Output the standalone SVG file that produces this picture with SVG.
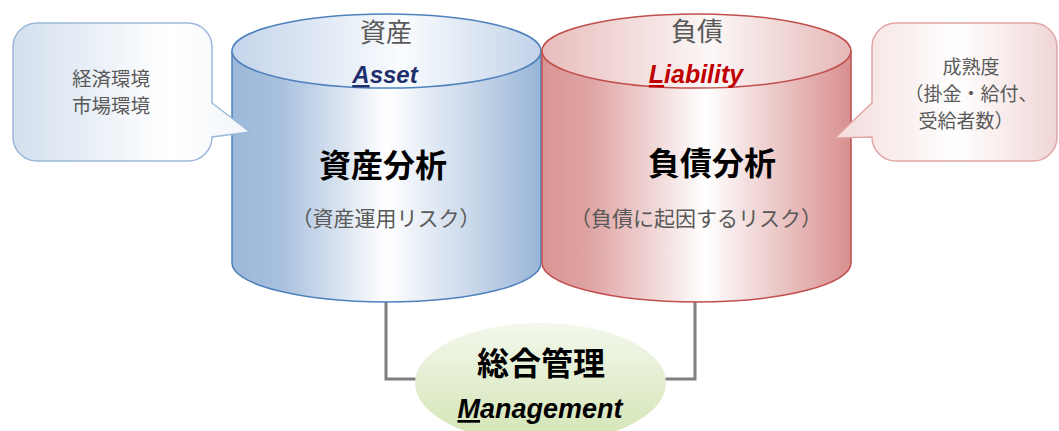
<svg xmlns="http://www.w3.org/2000/svg" width="1059" height="431" viewBox="0 0 1059 431">
<defs>
<linearGradient id="gBlueBody" x1="0" y1="0" x2="1" y2="0">
<stop offset="0" stop-color="#9DB8D9"/>
<stop offset="0.15" stop-color="#A6BFDD"/>
<stop offset="0.5" stop-color="#FFFFFF"/>
<stop offset="0.85" stop-color="#BACDE4"/>
<stop offset="1" stop-color="#97B4D7"/>
</linearGradient>
<linearGradient id="gBlueTop" x1="0" y1="0" x2="1" y2="0">
<stop offset="0" stop-color="#C4D4EA"/>
<stop offset="0.55" stop-color="#FAFCFE"/>
<stop offset="1" stop-color="#C1D2E8"/>
</linearGradient>
<linearGradient id="gRedBody" x1="0" y1="0" x2="1" y2="0">
<stop offset="0" stop-color="#D99594"/>
<stop offset="0.15" stop-color="#DEA3A2"/>
<stop offset="0.53" stop-color="#FFFFFF"/>
<stop offset="0.85" stop-color="#E4B3B2"/>
<stop offset="1" stop-color="#D78F8E"/>
</linearGradient>
<linearGradient id="gRedTop" x1="0" y1="0" x2="1" y2="0">
<stop offset="0" stop-color="#E7BDBC"/>
<stop offset="0.55" stop-color="#FCF7F7"/>
<stop offset="1" stop-color="#E5B8B7"/>
</linearGradient>
<linearGradient id="gBlueCall" x1="0" y1="0" x2="1" y2="0">
<stop offset="0" stop-color="#D3DFEE"/>
<stop offset="0.65" stop-color="#FFFFFF"/>
<stop offset="1" stop-color="#F2F6FA"/>
</linearGradient>
<linearGradient id="gRedCall" x1="0" y1="0" x2="1" y2="0">
<stop offset="0" stop-color="#F2DCDB"/>
<stop offset="0.55" stop-color="#FFFFFF"/>
<stop offset="1" stop-color="#F0D6D6"/>
</linearGradient>
<linearGradient id="gGreen" x1="0" y1="0" x2="0" y2="1">
<stop offset="0" stop-color="#F3F8EC"/>
<stop offset="1" stop-color="#D3E4B4"/>
</linearGradient>
</defs>
<style>
.jp{font-family:"Noto Sans CJK JP",sans-serif;}
.gray{fill:#595959;}
.bold{font-weight:bold;fill:#000;}
.lat{font-family:"Liberation Sans",Arial,sans-serif;font-weight:bold;font-style:italic;}
.conn{fill:none;stroke:#7F7F7F;stroke-width:3;}
</style>

<g id="connectors">
<polyline class="conn" points="386,302 386,379 695,379 695,302"/>
</g>

<g id="asset">
<path d="M232,51 V263 A154.5,39 0 0 0 541,263 V51 Z" fill="url(#gBlueBody)" stroke="#4F81BD" stroke-width="1.5"/>
<ellipse cx="386.5" cy="51" rx="154.5" ry="37" fill="url(#gBlueTop)" stroke="#4F81BD" stroke-width="1.5"/>
<text class="jp gray" font-size="26" text-anchor="middle" x="386" y="42">資産</text>
<text class="lat" font-size="24" fill="#1F2F6B" text-anchor="middle" x="385" y="83"><tspan text-decoration="underline">A</tspan>sset</text>
<text class="jp bold" font-size="32" text-anchor="middle" x="383" y="177">資産分析</text>
<text class="jp gray" font-size="21" text-anchor="middle" x="386" y="226">（資産運用リスク）</text>
</g>

<g id="liability">
<path d="M542,51 V263 A154.5,39 0 0 0 851,263 V51 Z" fill="url(#gRedBody)" stroke="#C0504D" stroke-width="1.5"/>
<ellipse cx="696.5" cy="51" rx="154.5" ry="37" fill="url(#gRedTop)" stroke="#C0504D" stroke-width="1.5"/>
<text class="jp gray" font-size="26" text-anchor="middle" x="697" y="41">負債</text>
<text class="lat" font-size="25" fill="#C00000" text-anchor="middle" x="696" y="83"><tspan text-decoration="underline">L</tspan>iability</text>
<text class="jp bold" font-size="32" text-anchor="middle" x="712" y="175">負債分析</text>
<text class="jp gray" font-size="21" text-anchor="middle" x="696" y="226">（負債に起因するリスク）</text>
</g>

<g id="callout-left">
<path d="M37,23 H188 A24,24 0 0 1 212,47 V103 L250,132 L212,137 A24,24 0 0 1 188,161 H37 A24,24 0 0 1 13,137 V47 A24,24 0 0 1 37,23 Z" fill="url(#gBlueCall)" stroke="#9CB8D9" stroke-width="1.5"/>
<text class="jp gray" font-size="19.5" text-anchor="middle" x="111" y="86">経済環境</text>
<text class="jp gray" font-size="19.5" text-anchor="middle" x="111" y="113">市場環境</text>
</g>

<g id="callout-right">
<path d="M896,23 H1033 A24,24 0 0 1 1057,47 V137 A24,24 0 0 1 1033,161 H896 A24,24 0 0 1 872,137 L835,138 L872,103 V47 A24,24 0 0 1 896,23 Z" fill="url(#gRedCall)" stroke="#E1A6A5" stroke-width="1.5"/>
<text class="jp gray" font-size="19" text-anchor="middle" x="971" y="74">成熟度</text>
<text class="jp gray" font-size="19" text-anchor="middle" x="971" y="101">（掛金・給付、</text>
<text class="jp gray" font-size="19" text-anchor="middle" x="966" y="128">受給者数）</text>
</g>

<g id="management">
<ellipse cx="540.5" cy="383" rx="125.5" ry="60" fill="url(#gGreen)"/>
<text class="jp bold" font-size="32" text-anchor="middle" x="541" y="375">総合管理</text>
<text class="lat" font-size="27" fill="#000" text-anchor="middle" x="540" y="418"><tspan text-decoration="underline">M</tspan>anagement</text>
</g>
</svg>
